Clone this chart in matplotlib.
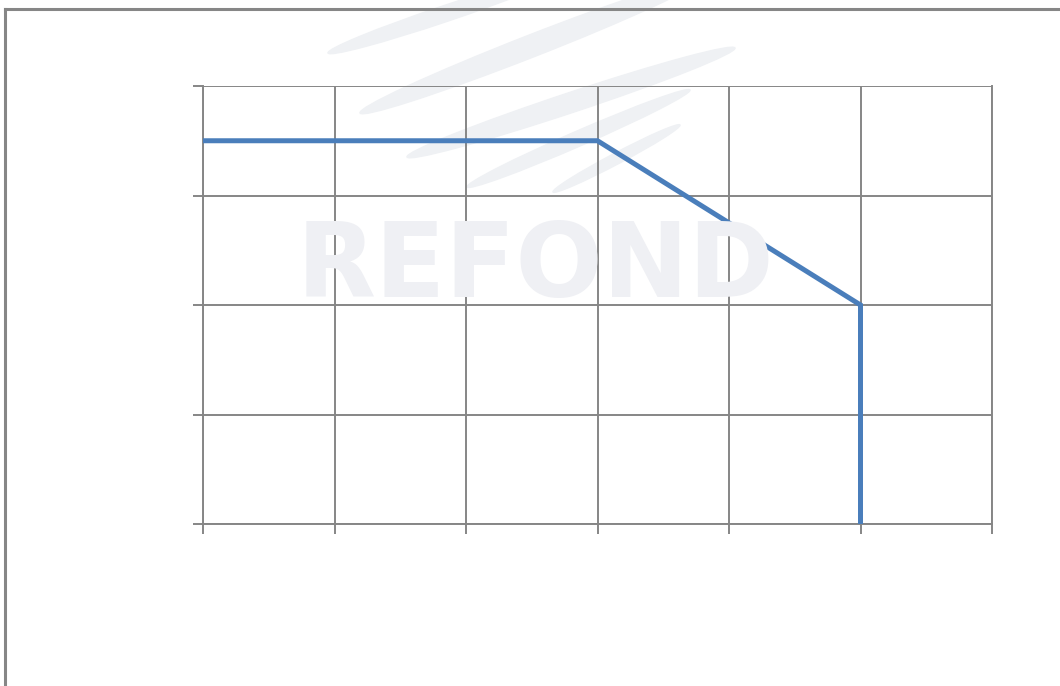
import numpy as np
import matplotlib.pyplot as plt
from matplotlib.patches import Ellipse
from matplotlib.lines import Line2D

# curve data (x units, y units)
x_vals = [0, 3, 5, 5]
y_vals = [3.5, 3.5, 2, 0]
x_ticks = [0, 1, 2, 3, 4, 5, 6]
y_ticks = [0, 1, 2, 3, 4]

grid_col = '#868686'
line_col = '#4a7ebb'
W, H = 1060, 686

fig = plt.figure(figsize=(W / 100, H / 100), dpi=100)

# outer frame (only top and left edges fall inside the picture)
fig.add_artist(Line2D([5 / W, 5 / W], [0, 1 - 9 / H], color=grid_col, lw=2.2))
fig.add_artist(Line2D([5 / W, 1], [1 - 9 / H, 1 - 9 / H], color=grid_col, lw=2.2))

# faint watermark swooshes, given as pixel end points and thickness
swooshes = [((328, 53), (560, -25), 16), ((360, 113), (700, -20), 22),
            ((407, 157), (735, 48), 20), ((467, 187), (690, 90), 15),
            ((553, 192), (680, 125), 11)]
for (x0, y0), (x1, y1), th in swooshes:
    dx, dy = x1 - x0, -(y1 - y0)
    cx, cy = (x0 + x1) / 2, H - (y0 + y1) / 2
    fig.add_artist(Ellipse((cx / 100, cy / 100), np.hypot(dx, dy) / 100, th / 100,
                           angle=np.degrees(np.arctan2(dy, dx)),
                           transform=fig.dpi_scale_trans, color='#eff1f4', zorder=0))
fig.text(535 / W, 1 - 268 / H, 'REFOND', fontsize=74, fontweight='bold',
         color='#eff0f4', ha='center', va='center', zorder=0)

ax = fig.add_axes([203 / W, 1 - 524 / H, 789 / W, 438 / H])
ax.patch.set_alpha(0)
ax.plot(x_vals, y_vals, color=line_col, lw=3.6, solid_joinstyle='miter', zorder=3)

ax.set_xlim(x_ticks[0], x_ticks[-1])
ax.set_ylim(y_ticks[0], y_ticks[-1])
ax.set_xticks(x_ticks)
ax.set_yticks(y_ticks)
ax.set_xticklabels([])
ax.set_yticklabels([])
ax.grid(True, color=grid_col, lw=1.4)
ax.tick_params(length=7, width=1.4, color=grid_col)
for s in ax.spines.values():
    s.set_color(grid_col)
    s.set_linewidth(1.4)
ax.spines['top'].set_visible(False)

fig.savefig('out.png', dpi=100)
